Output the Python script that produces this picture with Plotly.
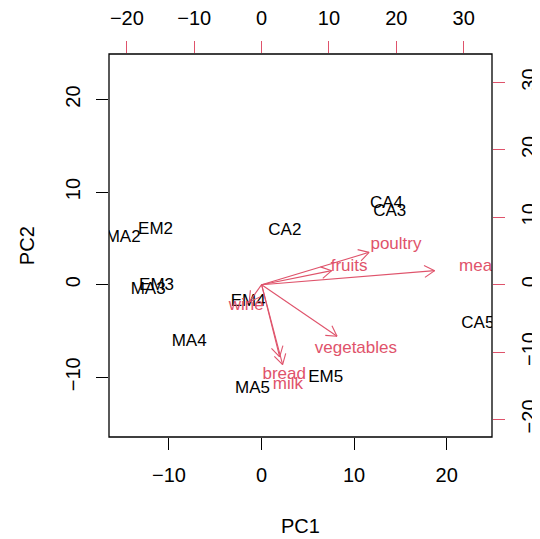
import math
import plotly.graph_objects as go

# Observation scores (PC1, PC2)
obs_names = ["MA2", "EM2", "CA2", "MA3", "EM3", "CA3", "MA4", "EM4", "CA4", "MA5", "EM5", "CA5"]
obs_pc1 = [-14.95, -11.45, 2.52, -12.25, -11.34, 13.85, -7.82, -1.45, 13.5, -0.97, 6.94, 23.37]
obs_pc2 = [5.08, 5.94, 5.79, -0.54, -0.08, 7.84, -6.2, -1.88, 8.75, -11.23, -10.05, -4.21]

# Variable loadings (secondary axes)
var_names = ["bread", "vegetables", "fruits", "meat", "poultry", "milk", "wine"]
var_pc1 = [3.35, 14.0, 13.0, 32.12, 19.95, 3.9, -2.3]
var_pc2 = [-13.4, -9.58, 2.6, 2.6, 6.0, -14.85, -3.2]

# Axis ranges and ticks
x_range = [-16.48, 24.9]
y_range = [-16.46, 24.92]
x2_range = [-22.66, 34.21]
y2_range = [-22.61, 34.24]
x_ticks = [-10, 0, 10, 20]
y_ticks = [-10, 0, 10, 20]
x2_ticks = [-20, -10, 0, 10, 20, 30]
y2_ticks = [-20, -10, 0, 10, 20, 30]

RED = "#DF536B"
FONT = "Liberation Sans, Arial, Helvetica, sans-serif"

fig = go.Figure()

# Arrows (shaft to 0.8 * loading) with open V heads
ax, ay = [], []
head = 1.75
ang = math.radians(30)
for px, py in zip(var_pc1, var_pc2):
    tx, ty = 0.8 * px, 0.8 * py
    ax += [0, tx, None]
    ay += [0, ty, None]
    L = math.hypot(tx, ty)
    dx, dy = tx / L, ty / L
    for s in (1, -1):
        c, sn = math.cos(s * ang), math.sin(s * ang)
        rx = dx * c - dy * sn
        ry = dx * sn + dy * c
        ax += [tx - head * rx, tx, None]
        ay += [ty - head * ry, ty, None]

fig.add_trace(go.Scatter(x=ax, y=ay, mode="lines", xaxis="x2", yaxis="y2",
                         line=dict(color=RED, width=1.1), hoverinfo="skip", showlegend=False))
fig.add_trace(go.Scatter(x=var_pc1, y=var_pc2, mode="text", text=var_names,
                         xaxis="x2", yaxis="y2", textposition="middle center",
                         textfont=dict(color=RED, size=17, family=FONT), showlegend=False))
fig.add_trace(go.Scatter(x=obs_pc1, y=obs_pc2, mode="text", text=obs_names,
                         textposition="middle center",
                         textfont=dict(color="black", size=17, family=FONT), showlegend=False))

tickfont = dict(size=20, family=FONT, color="black")
common = dict(ticks="outside", ticklen=12, tickwidth=1, showgrid=False,
              zeroline=False, showline=False, automargin=False, tickfont=tickfont)
fig.update_layout(
    width=532, height=531,
    margin=dict(l=101, r=48, t=46, b=102, autoexpand=False),
    paper_bgcolor="white", plot_bgcolor="white",
    showlegend=False,
    xaxis=dict(range=x_range, tickvals=x_ticks, ticktext=["\u221210", "0", "10", "20"],
               tickcolor="black", ticklabelstandoff=8, **common),
    yaxis=dict(range=y_range, tickvals=y_ticks, ticktext=["\u221210", "0", "10", "20"],
               tickcolor="black", tickangle=-90, ticklabelstandoff=8, **common),
    xaxis2=dict(range=x2_range, tickvals=x2_ticks,
                ticktext=["\u221220", "\u221210", "0", "10", "20", "30"],
                overlaying="x", side="top", anchor="y",
                tickcolor=RED, ticklabelstandoff=8, **common),
    yaxis2=dict(range=y2_range, tickvals=y2_ticks,
                ticktext=["\u221220", "\u221210", "0", "10", "20", "30"],
                overlaying="y", side="right", anchor="x",
                tickcolor=RED, tickangle=-90, ticklabelstandoff=7, **common),
    shapes=[dict(type="rect", xref="paper", yref="paper", x0=0, x1=1, y0=0, y1=1,
                 line=dict(color="black", width=1.3))],
    annotations=[
        dict(text="PC1", xref="paper", yref="paper", x=0.5, y=-0.233,
             xanchor="center", yanchor="middle", showarrow=False,
             font=dict(size=20, family=FONT, color="black")),
        dict(text="PC2", xref="paper", yref="paper", x=-0.215, y=0.5,
             xanchor="center", yanchor="middle", showarrow=False, textangle=-90,
             font=dict(size=20, family=FONT, color="black")),
    ],
)

fig.write_html("out.html")
